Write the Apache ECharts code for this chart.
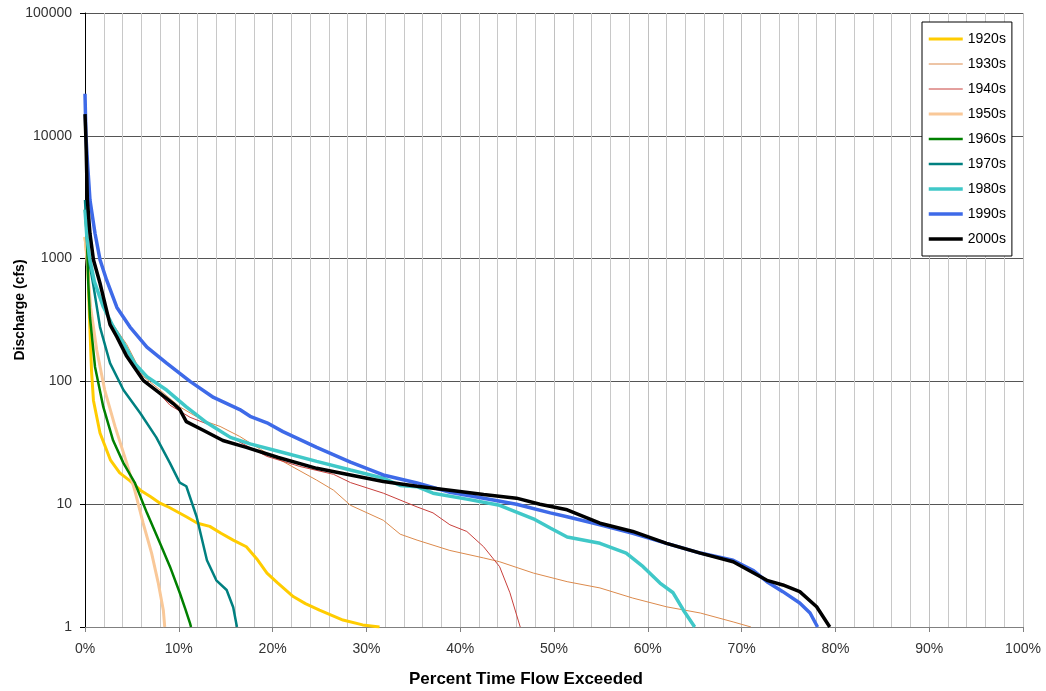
<!DOCTYPE html>
<html>
<head>
<meta charset="utf-8">
<script src="https://cdn.jsdelivr.net/npm/echarts@6/dist/echarts.min.js"></script>
<style>
html,body{margin:0;padding:0;background:#fff;}
#chart{width:1046px;height:691px;}
</style>
</head>
<body>
<div id="chart"></div>
<script>
// Percent of time exceeded (x) and discharge in cfs (y) for each decade
const d1920s = [[0,1500],[0.3,900],[0.5,300],[0.7,120],[0.9,70],[1.6,38],[2.7,23],[3.7,18],[4.8,15.5],[5.9,13],[7,11.5],[8,10.2],[9,9.4],[10.8,7.9],[12,7],[13.3,6.6],[14.5,5.8],[15.8,5.1],[17.2,4.5],[18.3,3.6],[19.4,2.75],[20.5,2.3],[22.2,1.77],[23.5,1.55],[25,1.37],[27.5,1.14],[29.6,1.04],[31.4,1]];
const d1930s = [[0,3000],[0.3,1500],[0.6,900],[1,650],[2,400],[3,290],[4.45,200],[6.2,110],[8,85],[10.1,62],[12.6,48],[14.4,43],[16.5,35.6],[18.7,28],[19.4,26],[21.1,22.3],[24.7,15.7],[26.5,13],[28.3,9.8],[31.8,7.4],[33.6,5.7],[35.4,5.1],[38.9,4.2],[42.5,3.65],[44.2,3.4],[47.8,2.75],[51.4,2.34],[54.9,2.08],[58.4,1.72],[62,1.46],[65.6,1.3],[69.1,1.1],[71,1]];
const d1940s = [[0,2500],[0.3,1300],[0.6,800],[1,650],[2,400],[3,290],[4.45,190],[6.2,105],[8,78],[9.06,64],[11.2,51],[13.7,43],[16.5,32],[19.4,24.5],[22.9,20.3],[26.5,17.5],[28.3,15],[31.8,12.3],[35.4,9.5],[37.1,8.5],[38.9,6.8],[40.7,6],[42.5,4.5],[44.2,3.1],[45.3,1.9],[46.4,1]];
const d1950s = [[0,1500],[0.3,800],[0.6,400],[1.25,180],[2.1,85],[3.2,43],[4.45,21.6],[5.3,13],[6.2,7],[7.1,4],[7.8,2.3],[8.35,1.37],[8.5,1]];
const d1960s = [[0,2500],[0.2,1500],[0.35,630],[0.53,333],[1.07,131],[1.95,62],[3.0,33],[4.1,21.6],[5.3,15],[6.6,8.5],[8.0,4.8],[9.06,3.1],[10.1,1.9],[10.7,1.4],[11.2,1.07],[11.3,1]];
const d1970s = [[0,3000],[0.2,1500],[0.5,900],[0.9,600],[1.6,277],[2.67,141],[4.1,85],[5.9,55],[7.6,35],[9.06,21.6],[10.1,15],[10.8,14],[11.9,7.9],[13,3.5],[14,2.4],[15.1,2.0],[15.8,1.45],[16.2,1]];
const d1980s = [[0,2500],[0.2,1500],[0.5,1000],[1,650],[1.95,405],[3,280],[4.1,205],[5.3,140],[6.6,109],[8.7,85],[10.8,62],[13,46],[15.5,35],[17.6,31],[20.6,27],[24.7,22.3],[28.3,19],[31.8,16.3],[33.6,14.2],[35.4,13.9],[37.1,12.3],[40.7,11],[44.2,9.8],[47.8,7.6],[49.6,6.4],[51.4,5.4],[54.9,4.8],[57.7,4.0],[59.5,3.1],[61.3,2.28],[62.7,1.9],[63.8,1.37],[65,1]];
const d1990s = [[0,22000],[0.1,10000],[0.25,6300],[0.53,3000],[1.07,1600],[1.6,980],[2.3,670],[3.4,400],[4.8,277],[6.6,190],[8.7,141],[11.2,100],[13.7,74],[16.5,59],[17.6,52],[19.4,46],[21.1,39],[24.7,29],[28.3,22],[31.8,17.3],[35.4,14.9],[38.9,12.5],[42.5,11.2],[46,10],[49.6,8.5],[51.4,7.9],[54.9,6.8],[58.4,5.8],[62,4.8],[65.6,4.0],[69.1,3.5],[71.2,2.9],[72.7,2.34],[74.4,1.94],[76.2,1.57],[77.3,1.3],[78.1,1]];
const d2000s = [[0,15000],[0.1,9300],[0.25,3000],[0.53,1600],[0.9,980],[1.6,630],[2.67,290],[3.4,230],[4.45,160],[6.2,102],[8,80],[9.4,66],[10.1,59],[10.8,47],[12.6,40],[14.7,33],[17.2,29],[20.6,24],[24.7,19.6],[28.3,17.3],[31.8,15.3],[35.4,14],[38.9,13],[42.5,12],[46,11.2],[48.5,10],[51.4,9],[54.9,7],[58.4,6],[62,4.8],[65.6,4.0],[69.1,3.4],[72.7,2.4],[74.4,2.2],[76.2,1.94],[78,1.46],[79.4,1]];

const seriesNames = ['1920s','1930s','1940s','1950s','1960s','1970s','1980s','1990s','2000s'];
const seriesData = [d1920s,d1930s,d1940s,d1950s,d1960s,d1970s,d1980s,d1990s,d2000s];
const seriesColors = ['#FFCC00','#DC8A4C','#C8403C','#F9C898','#008000','#008080','#40C8C8','#3E6AE8','#000000'];
const seriesWidths = [3,1,1,3,2.5,2.5,3.5,3.5,3.5];

const chart = echarts.init(document.getElementById('chart'));
chart.setOption({
  animation:false,
  backgroundColor:'#fff',
  textStyle:{fontFamily:'Liberation Sans, Arial, sans-serif'},
  grid:{left:85,right:23,top:13,bottom:64,containLabel:false,outerBoundsMode:'none'},
  legend:{
    orient:'vertical',left:922,top:22,
    padding:[10,6,10,5],
    itemWidth:34,itemHeight:14,itemGap:11,
    borderColor:'#000',borderWidth:1,backgroundColor:'#fff',
    itemStyle:{opacity:0},
    textStyle:{fontSize:14,color:'#000',fontFamily:'Liberation Sans, Arial, sans-serif'},
    data:seriesNames.map((n,i)=>({name:n,lineStyle:{width:seriesWidths[i],color:seriesColors[i]}}))
  },
  xAxis:{
    type:'value',min:0,max:100,interval:10,
    name:'Percent Time Flow Exceeded',nameLocation:'middle',nameGap:44,nameMoveOverlap:false,
    nameTextStyle:{fontSize:17,fontWeight:'bold',color:'#000',padding:[0,56,0,0]},
    axisLine:{show:true,lineStyle:{color:'#808080',width:1}},
    axisTick:{show:true,length:5,lineStyle:{color:'#808080'}},
    axisLabel:{fontSize:14,color:'#333',margin:15,formatter:v=>v+'%'},
    splitLine:{show:true,lineStyle:{color:'#c0c0c0',width:1}},
    minorTick:{show:false,splitNumber:5},
    minorSplitLine:{show:true,lineStyle:{color:'#c8c8c8',width:1}}
  },
  yAxis:{
    type:'log',logBase:10,min:1,max:100000,
    name:'Discharge (cfs)',nameLocation:'middle',nameGap:58,nameMoveOverlap:false,
    nameTextStyle:{fontSize:14,fontWeight:'bold',color:'#000',padding:[0,0,0,20]},
    axisLine:{show:true,lineStyle:{color:'#000',width:1}},
    axisTick:{show:true,length:5,lineStyle:{color:'#000'}},
    axisLabel:{fontSize:14,color:'#333',margin:13,formatter:v=>String(Math.round(v))},
    splitLine:{show:true,lineStyle:{color:'#555',width:1}},
    minorTick:{show:false},minorSplitLine:{show:false}
  },
  series:seriesNames.map((n,i)=>({
    name:n,type:'line',data:seriesData[i],
    symbol:'none',showSymbol:false,
    color:seriesColors[i],
    lineStyle:{color:seriesColors[i],width:seriesWidths[i]},
    z:2+i
  }))
});
</script>
</body>
</html>
